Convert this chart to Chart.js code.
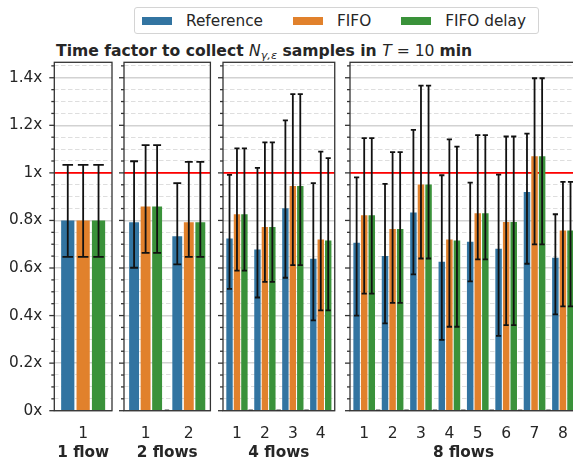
<!DOCTYPE html>
<html>
<head>
<meta charset="utf-8">
<script src="https://cdn.jsdelivr.net/npm/chart.js@4.4.1/dist/chart.umd.min.js"></script>
<style>
  body { margin: 0; width: 573px; height: 462px; overflow: hidden; background: #fff; position: relative;
         font-family: 'DejaVu Sans', sans-serif; color: #262626; }
  canvas { position: absolute; top: 0; }
  #legend { position: absolute; left: 134px; top: 7px; width: 396px; height: 25px; border: 1px solid #d4d4d4;
            border-radius: 3px; display: flex; align-items: center; padding-left: 7px; box-sizing: content-box;
            font-size: 15.3px; background: #fff; z-index: 2; white-space: nowrap; }
  #legend .item { display: flex; align-items: center; margin-right: 30px; white-space: nowrap; flex: none; }
  #legend .sw { width: 30px; height: 8px; margin-right: 14px; }
  #title { position: absolute; left: 56px; top: 42px; font-size: 15.6px; line-height: 18px; white-space: nowrap; }
  #title b { font-weight: bold; }
  #title sub { font-size: 0.72em; line-height: 0; vertical-align: -0.3em; font-style: italic; }
</style>
</head>
<body>
<div id="legend"></div>
<div id="title"><b>Time factor to collect </b><i>N</i><sub>γ,ε</sub><b> samples in </b><i>T</i> = 10 <b>min</b></div>
<script>
const seriesNames = ['Reference', 'FIFO', 'FIFO delay'];
const seriesColors = ['#3274a1', '#e1812c', '#3a923a'];
const panelNames = ['1 flow', '2 flows', '4 flows', '8 flows'];
const flowLabels = [['1'], ['1', '2'], ['1', '2', '3', '4'], ['1', '2', '3', '4', '5', '6', '7', '8']];

// mean time factor per flow, one inner list per panel
const refMean = [[0.80], [0.792, 0.734], [0.724, 0.678, 0.851, 0.639],
  [0.706, 0.650, 0.833, 0.626, 0.710, 0.681, 0.920, 0.643]];
const refLow = [[0.647], [0.601, 0.615], [0.512, 0.476, 0.559, 0.380],
  [0.400, 0.367, 0.573, 0.298, 0.544, 0.315, 0.618, 0.405]];
const refHigh = [[1.034], [1.049, 0.957], [0.992, 1.021, 1.221, 0.957],
  [0.981, 0.954, 1.181, 0.990, 0.959, 0.993, 1.165, 0.826]];

const fifoMean = [[0.80], [0.859, 0.792], [0.826, 0.772, 0.945, 0.720],
  [0.822, 0.764, 0.951, 0.720, 0.830, 0.793, 1.070, 0.758]];
const fifoLow = [[0.647], [0.664, 0.647], [0.589, 0.542, 0.612, 0.422],
  [0.492, 0.453, 0.640, 0.353, 0.636, 0.360, 0.699, 0.439]];
const fifoHigh = [[1.034], [1.117, 1.046], [1.103, 1.128, 1.331, 1.089],
  [1.146, 1.087, 1.367, 1.141, 1.159, 1.153, 1.398, 0.962]];

const delayMean = [[0.80], [0.859, 0.792], [0.826, 0.772, 0.945, 0.716],
  [0.822, 0.764, 0.951, 0.716, 0.830, 0.793, 1.070, 0.758]];
const delayLow = [[0.647], [0.664, 0.647], [0.589, 0.542, 0.612, 0.422],
  [0.492, 0.453, 0.640, 0.353, 0.636, 0.360, 0.699, 0.439]];
const delayHigh = [[1.034], [1.117, 1.046], [1.103, 1.128, 1.331, 1.062],
  [1.146, 1.087, 1.367, 1.110, 1.159, 1.153, 1.398, 0.962]];

const baseline = 1;
const yMax = 1.465;

const means = [refMean, fifoMean, delayMean];
const lows = [refLow, fifoLow, delayLow];
const highs = [refHigh, fifoHigh, delayHigh];

// panel geometry
const panelLeft = [54.3, 124.3, 222.7, 350];
const panelRight = [112, 210.7, 337.3, 580];
const plotTop = 62.3;
const plotBottom = 410.7;
const H = 462;
const textColor = '#262626';
const font = 'DejaVu Sans';

Chart.defaults.font.family = font;
Chart.defaults.color = textColor;

const isMajor = v => Math.abs(v / 0.2 - Math.round(v / 0.2)) < 1e-6;

// legend
const legend = document.getElementById('legend');
seriesNames.forEach((name, i) => {
  const item = document.createElement('div');
  item.className = 'item';
  item.innerHTML = '<span class="sw" style="background:' + seriesColors[i] + '"></span><span>' + name + '</span>';
  legend.appendChild(item);
});

const panelDecor = {
  id: 'panelDecor',
  beforeDatasetsDraw(chart) {
    const { ctx, chartArea: a, scales: { y } } = chart;
    const py = y.getPixelForValue(baseline);
    ctx.save();
    ctx.strokeStyle = '#ff0000';
    ctx.lineWidth = 1.6;
    ctx.beginPath();
    ctx.moveTo(a.left, py);
    ctx.lineTo(a.right, py);
    ctx.stroke();
    ctx.restore();
  },
  afterDatasetsDraw(chart) {
    const { ctx, chartArea: a, scales: { x, y } } = chart;
    ctx.save();
    // error bars with caps
    ctx.strokeStyle = '#111';
    ctx.lineWidth = 1.8;
    chart.data.datasets.forEach((ds, d) => {
      chart.getDatasetMeta(d).data.forEach((bar, i) => {
        const lo = y.getPixelForValue(ds.errLow[i]);
        const hi = y.getPixelForValue(ds.errHigh[i]);
        const c = bar.width * 0.4;
        ctx.beginPath();
        ctx.moveTo(bar.x, lo); ctx.lineTo(bar.x, hi);
        ctx.moveTo(bar.x - c, lo); ctx.lineTo(bar.x + c, lo);
        ctx.moveTo(bar.x - c, hi); ctx.lineTo(bar.x + c, hi);
        ctx.stroke();
      });
    });
    // small marks on the baseline between flows
    ctx.strokeStyle = '#333';
    ctx.lineWidth = 1.3;
    const n = chart.data.labels.length;
    for (let i = 1; i < n; i++) {
      const px = x.getPixelForValue(i - 0.5);
      ctx.beginPath();
      ctx.moveTo(px - 2.5, a.bottom - 0.5);
      ctx.lineTo(px + 2, a.bottom - 0.5);
      ctx.stroke();
    }
    // frame
    ctx.strokeRect(a.left, a.top, a.right - a.left, a.bottom - a.top);
    // y tick marks
    y.ticks.forEach(t => {
      const py = y.getPixelForValue(t.value);
      const len = isMajor(t.value) ? 5 : 3;
      ctx.beginPath();
      ctx.moveTo(a.left - len, py);
      ctx.lineTo(a.left, py);
      ctx.stroke();
    });
    ctx.restore();
  }
};

panelNames.forEach((panelName, k) => {
  const axisW = k === 0 ? panelLeft[0] : 8;
  const left = panelLeft[k] - axisW;
  const width = Math.ceil(panelRight[k] - left + 2);
  const canvas = document.createElement('canvas');
  canvas.width = width;
  canvas.height = H;
  canvas.style.left = left + 'px';
  canvas.style.width = width + 'px';
  canvas.style.height = H + 'px';
  document.body.appendChild(canvas);

  const datasets = seriesNames.map((name, s) => ({
    label: name,
    data: means[s][k],
    errLow: lows[s][k],
    errHigh: highs[s][k],
    backgroundColor: seriesColors[s],
    barPercentage: 0.86,
    categoryPercentage: 0.8
  }));

  new Chart(canvas, {
    type: 'bar',
    data: { labels: flowLabels[k], datasets: datasets },
    options: {
      responsive: false,
      animation: false,
      devicePixelRatio: 1,
      layout: { padding: { top: plotTop, right: width - (panelRight[k] - left), bottom: 0, left: 0 } },
      plugins: { legend: { display: false }, tooltip: { enabled: false } },
      scales: {
        x: {
          type: 'category',
          offset: true,
          grid: { display: false, drawTicks: false },
          border: { display: false },
          ticks: { font: { size: 15.5 }, color: textColor, padding: 14, maxRotation: 0, autoSkip: false },
          title: {
            display: true,
            text: panelName,
            font: { size: 15.3, weight: 'bold' },
            color: textColor,
            padding: { top: 0, bottom: 0 }
          },
          afterFit: s => { s.height = H - plotBottom; }
        },
        y: {
          min: 0,
          max: yMax,
          afterBuildTicks: s => {
            const ticks = [];
            for (let i = 0; i * 0.05 <= yMax + 1e-9; i++) ticks.push({ value: +(i * 0.05).toFixed(2) });
            s.ticks = ticks;
          },
          grid: {
            drawTicks: false,
            color: c => isMajor(c.tick.value) ? '#d2d2d2' : '#dedede',
            lineWidth: c => isMajor(c.tick.value) ? 1.6 : 1.1
          },
          border: {
            display: false,
            dash: c => (c.tick && !isMajor(c.tick.value)) ? [4.5, 2.5] : []
          },
          ticks: {
            display: k === 0,
            autoSkip: false,
            padding: 12,
            font: { size: 15.3 },
            color: textColor,
            callback: v => isMajor(v) ? (v === 0 ? '0x' : (Math.round(v * 10) / 10) + 'x') : ''
          },
          afterFit: s => { s.width = axisW; }
        }
      }
    },
    plugins: [panelDecor]
  });
});
</script>
</body>
</html>
